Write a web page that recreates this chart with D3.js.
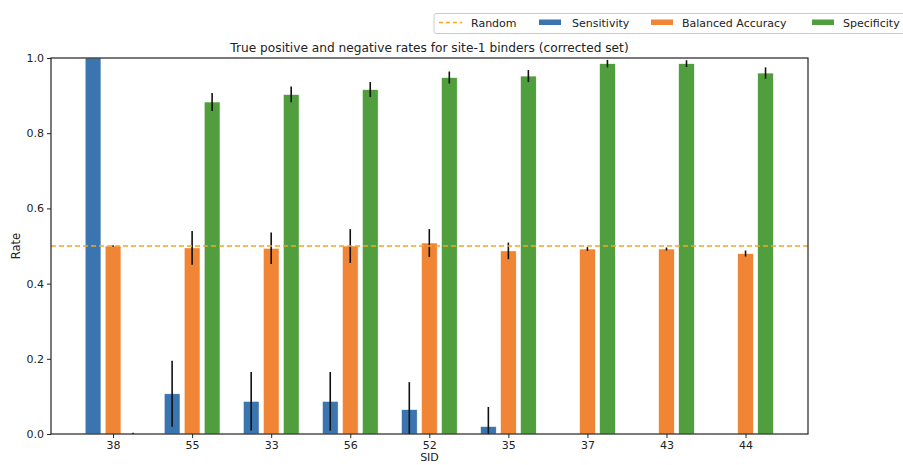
<!DOCTYPE html>
<html lang="en">
<head>
    <meta charset="UTF-8">
    <script src="https://d3js.org/d3.v7.min.js"></script>
    <title>Rates</title>
    <style>
        body { margin: 0; background: #fff; }
        text { font-family: "DejaVu Sans", sans-serif; fill: #222; }
    </style>
</head>
<body>
    <svg id="chart" width="903" height="465"></svg>
    <script>
        var width = 903, height = 465;
        var margin = {left: 51, right: 95, top: 58, bottom: 31};

        var sids = ['38', '55', '33', '56', '52', '35', '37', '43', '44'];
        var seriesNames = ['Sensitivity', 'Balanced Accuracy', 'Specificity'];
        var colors = ['#3b75af', '#ef8535', '#519e3e'];

        var sensitivity = [1.0, 0.107, 0.087, 0.087, 0.065, 0.02, 0, 0, 0];
        var sensitivityErr = [0, 0.088, 0.078, 0.078, 0.073, 0.052, 0, 0, 0];
        var balanced = [0.5, 0.495, 0.494, 0.5, 0.508, 0.487, 0.492, 0.492, 0.48];
        var balancedErr = [0.002, 0.045, 0.042, 0.045, 0.037, 0.022, 0.005, 0.004, 0.008];
        var specificity = [0, 0.883, 0.903, 0.916, 0.948, 0.952, 0.985, 0.985, 0.96];
        var specificityErr = [0.003, 0.024, 0.021, 0.02, 0.016, 0.016, 0.01, 0.009, 0.015];

        var randomLevel = 0.5;
        var yTicks = [0, 0.2, 0.4, 0.6, 0.8, 1.0];

        var values = [sensitivity, balanced, specificity];
        var errs = [sensitivityErr, balancedErr, specificityErr];

        var svg = d3.select('#chart');
        var x0 = margin.left, x1 = width - margin.right;
        var y0 = height - margin.bottom, y1 = margin.top;

        var x = d3.scaleLinear().domain([-0.785, sids.length - 1 + 0.79]).range([x0, x1]);
        var y = d3.scaleLinear().domain([0, 1]).range([y0, y1]);
        var step = 0.253;   // offset between bars inside a group, in category units
        var barW = 0.2;

        svg.append('clipPath').attr('id', 'clip')
            .append('rect').attr('x', x0).attr('y', y1).attr('width', x1 - x0).attr('height', y0 - y1);

        var plot = svg.append('g').attr('clip-path', 'url(#clip)');

        // bars
        seriesNames.forEach(function(name, s) {
            plot.append('g')
                .selectAll('rect')
                .data(values[s])
                .join('rect')
                .attr('x', function(d, i) { return x(i + (s - 1) * step - barW / 2); })
                .attr('width', x(barW) - x(0))
                .attr('y', function(d) { return y(d); })
                .attr('height', function(d) { return y(0) - y(d); })
                .attr('fill', colors[s])
                .attr('stroke', '#fff')
                .attr('stroke-width', 0.6);
        });

        // error bars
        seriesNames.forEach(function(name, s) {
            plot.append('g')
                .selectAll('line')
                .data(values[s].map(function(v, i) { return {v: v, e: errs[s][i], i: i}; })
                    .filter(function(d) { return d.e > 0; }))
                .join('line')
                .attr('x1', function(d) { return x(d.i + (s - 1) * step); })
                .attr('x2', function(d) { return x(d.i + (s - 1) * step); })
                .attr('y1', function(d) { return y(d.v - d.e); })
                .attr('y2', function(d) { return y(d.v + d.e); })
                .attr('stroke', '#111')
                .attr('stroke-width', 1.6);
        });

        // random line
        plot.append('line')
            .attr('x1', x0).attr('x2', x1)
            .attr('y1', y(randomLevel)).attr('y2', y(randomLevel))
            .attr('stroke', '#f5a623')
            .attr('stroke-width', 1.3)
            .attr('stroke-dasharray', '5,3');

        // axes
        var xAxis = d3.axisBottom(x).tickValues(d3.range(sids.length))
            .tickFormat(function(i) { return sids[i]; }).tickSize(4).tickSizeOuter(0);
        var yAxis = d3.axisLeft(y).tickValues(yTicks)
            .tickFormat(d3.format('.1f')).tickSize(4).tickSizeOuter(0);

        var gx = svg.append('g').attr('transform', 'translate(0,' + y0 + ')').call(xAxis);
        var gy = svg.append('g').attr('transform', 'translate(' + x0 + ',0)').call(yAxis);
        [gx, gy].forEach(function(g) {
            g.select('.domain').remove();
            g.selectAll('.tick line').attr('stroke', '#222');
            g.selectAll('.tick text').style('font-size', '11px').attr('fill', '#222');
        });

        svg.append('rect')
            .attr('x', x0).attr('y', y1)
            .attr('width', x1 - x0).attr('height', y0 - y1)
            .attr('fill', 'none').attr('stroke', '#222').attr('stroke-width', 1.2);

        // labels
        svg.append('text')
            .attr('x', (x0 + x1) / 2).attr('y', y1 - 6)
            .attr('text-anchor', 'middle')
            .style('font-size', '12.2px')
            .text('True positive and negative rates for site-1 binders (corrected set)');

        svg.append('text')
            .attr('transform', 'translate(20,' + ((y0 + y1) / 2) + ') rotate(-90)')
            .attr('text-anchor', 'middle')
            .style('font-size', '11.5px')
            .text('Rate');

        svg.append('text')
            .attr('x', (x0 + x1) / 2).attr('y', 461)
            .attr('text-anchor', 'middle')
            .style('font-size', '11px')
            .text('SID');

        // legend
        var legend = svg.append('g');
        legend.append('rect')
            .attr('x', 434).attr('y', 13.5).attr('width', 480).attr('height', 20)
            .attr('rx', 2)
            .attr('fill', '#fff').attr('stroke', '#ccc').attr('stroke-width', 1);

        legend.append('line')
            .attr('x1', 439).attr('x2', 462).attr('y1', 22.5).attr('y2', 22.5)
            .attr('stroke', '#f5a623').attr('stroke-width', 1.3)
            .attr('stroke-dasharray', '4,3');
        legend.append('text').attr('x', 471).attr('y', 27).style('font-size', '11px').text('Random');

        var patchX = [539, 651, 812];
        var textX = [572, 682, 843];
        seriesNames.forEach(function(name, s) {
            legend.append('rect')
                .attr('x', patchX[s]).attr('y', 19.5).attr('width', 22).attr('height', 5.5)
                .attr('fill', colors[s]);
            legend.append('text').attr('x', textX[s]).attr('y', 27)
                .style('font-size', '11px').text(name);
        });
    </script>
</body>
</html>
